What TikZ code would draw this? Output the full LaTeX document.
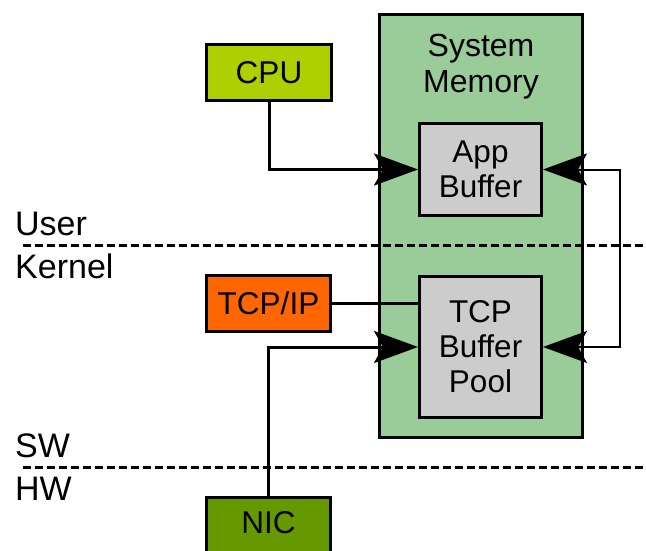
\documentclass[tikz,border=0pt]{standalone}
\usepackage{fontspec}
\setmainfont{Liberation Sans}
\usetikzlibrary{arrows.meta}
\definecolor{cpuc}{HTML}{AFD000}
\definecolor{tcpc}{HTML}{FF6600}
\definecolor{nicc}{HTML}{669900}
\definecolor{memc}{HTML}{99CC99}
\definecolor{bufc}{HTML}{CCCCCC}
\begin{document}
\begin{tikzpicture}[x=1pt,y=-1pt,
  box/.style={draw=black, line width=3pt, inner sep=0pt, align=center,
    font=\fontsize{31.5}{35}\selectfont},
  sidelabel/.style={anchor=base west, inner sep=0pt, font=\fontsize{34}{36}\selectfont},
  divider/.style={line width=3pt, dash pattern=on 8pt off 4pt},
  conn/.style={line width=3pt},
  arr/.style={-{Stealth[length=44pt,width=32pt,inset=9pt]}},
  barr/.style={{Stealth[length=44pt,width=32pt,inset=9pt]}-{Stealth[length=44pt,width=32pt,inset=9pt]}, line width=2pt}
]
\useasboundingbox (0,0) rectangle (646,551);

% system memory
\node[box, fill=memc, minimum width=203pt, minimum height=423pt] (mem) at (481,226) {};
\node[inner sep=0pt, align=center, font=\fontsize{32}{36}\selectfont] (memtitle) at (481,67) {System\\Memory};
\node[box, fill=bufc, minimum width=122pt, minimum height=92pt] (app) at (480.5,169.5) {App\\Buffer};
\node[box, fill=bufc, minimum width=122pt, minimum height=141pt] (tcpbuf) at (480.5,347) {TCP\\Buffer\\Pool};

% left boxes
\node[box, fill=cpuc, minimum width=125pt, minimum height=56pt] (cpu) at (269,72.5) {CPU};
\node[box, fill=tcpc, minimum width=124pt, minimum height=56pt] (tcpip) at (268.5,303.5) {TCP/IP};
\node[box, fill=nicc, minimum width=124pt, text height=35.5pt, text depth=23pt, anchor=base] (nic) at (268.5,533) {NIC};

% dividers
\coordinate (d1s) at (23,245);
\coordinate (d1e) at (646,245);
\coordinate (d2s) at (23,467);
\coordinate (d2e) at (646,467);
\draw[divider] (d1s) -- (d1e);
\draw[divider] (d2s) -- (d2e);

% side labels
\node[sidelabel] (user) at (15,235) {User};
\node[sidelabel] (kernel) at (15,278) {Kernel};
\node[sidelabel] (sw) at (15,457) {SW};
\node[sidelabel] (hw) at (15,500) {HW};

% connectors
\draw[conn, arr] (cpu.south) |- (app.west);
\draw[conn] (tcpip.east) -- (tcpbuf.west |- tcpip.east);
\draw[conn, arr] (nic.north) |- (tcpbuf.west);
\coordinate (br) at (620,0);
\draw[barr] (app.east) -- (app.east -| br) -- (tcpbuf.east -| br) -- (tcpbuf.east);
\end{tikzpicture}
\end{document}
